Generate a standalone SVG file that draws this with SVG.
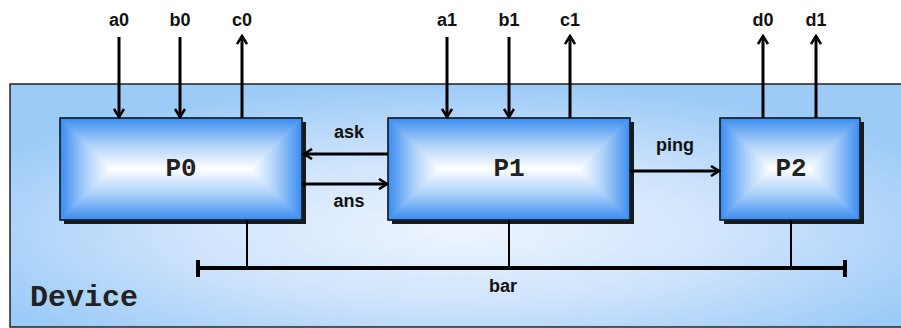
<svg xmlns="http://www.w3.org/2000/svg" width="901" height="328" viewBox="0 0 901 328">
<defs>
<style>
.lbl{font-family:"Liberation Sans",Arial,sans-serif;font-weight:bold;font-size:18px;fill:#111;text-anchor:middle}
.nm{font-family:"Liberation Mono","Courier New",monospace;font-weight:bold;font-size:26px;fill:#222;text-anchor:middle}
.arr{stroke:#000;stroke-width:3;fill:none}
.stub{stroke:#000;stroke-width:2;fill:none}
.shadow{fill:#1a1a1a}
.edge{fill:none;stroke:#111;stroke-width:1.5}
.t{fill:url(#gt);stroke:url(#gt);stroke-width:1}
.b{fill:url(#gb);stroke:url(#gb);stroke-width:1}
.l{fill:url(#gl);stroke:url(#gl);stroke-width:1}
.r{fill:url(#gr);stroke:url(#gr);stroke-width:1}
</style>
<radialGradient id="bg" cx="0.5" cy="0.6" r="0.6">
<stop offset="0" stop-color="#eef5ff"/>
<stop offset="0.5" stop-color="#cfe4fc"/>
<stop offset="1" stop-color="#9ccbf7"/>
</radialGradient>
<linearGradient id="gt" x1="0" y1="0" x2="0" y2="1"><stop offset="0" stop-color="#3a8cf0"/><stop offset="0.5" stop-color="#a8cff9"/><stop offset="1" stop-color="#ffffff"/></linearGradient>
<linearGradient id="gb" x1="0" y1="1" x2="0" y2="0"><stop offset="0" stop-color="#3a8cf0"/><stop offset="0.5" stop-color="#a8cff9"/><stop offset="1" stop-color="#ffffff"/></linearGradient>
<linearGradient id="gl" x1="0" y1="0" x2="1" y2="0"><stop offset="0" stop-color="#3a8cf0"/><stop offset="0.5" stop-color="#a8cff9"/><stop offset="1" stop-color="#ffffff"/></linearGradient>
<linearGradient id="gr" x1="1" y1="0" x2="0" y2="0"><stop offset="0" stop-color="#3a8cf0"/><stop offset="0.5" stop-color="#a8cff9"/><stop offset="1" stop-color="#ffffff"/></linearGradient>
<marker id="ah" viewBox="0 0 12 12" refX="10" refY="6" markerWidth="12" markerHeight="12" markerUnits="userSpaceOnUse" orient="auto">
<path d="M2,1 L10,6 L2,11" fill="none" stroke="#000" stroke-width="2.6"/>
</marker>
</defs>

<g id="device">
<rect x="10" y="84" width="900" height="243" fill="url(#bg)" stroke="#222" stroke-width="1.5"/>
<text x="30" y="306" font-family="'Liberation Mono','Courier New',monospace" font-weight="bold" font-size="30" fill="#222">Device</text>
</g>

<g id="P0">
<rect class="shadow" x="64" y="122" width="242" height="102"/>
<polygon class="t" points="60,118 302,118 251,169 111,169"/>
<polygon class="b" points="60,220 302,220 251,169 111,169"/>
<polygon class="l" points="60,118 111,169 60,220"/>
<polygon class="r" points="302,118 251,169 302,220"/>
<rect class="edge" x="60" y="118" width="242" height="102"/>
<text class="nm" x="181" y="176">P0</text>
</g>

<g id="P1">
<rect class="shadow" x="392" y="122" width="242" height="102"/>
<polygon class="t" points="388,118 630,118 579,169 439,169"/>
<polygon class="b" points="388,220 630,220 579,169 439,169"/>
<polygon class="l" points="388,118 439,169 388,220"/>
<polygon class="r" points="630,118 579,169 630,220"/>
<rect class="edge" x="388" y="118" width="242" height="102"/>
<text class="nm" x="509" y="176">P1</text>
</g>

<g id="P2">
<rect class="shadow" x="724" y="122" width="140" height="102"/>
<polygon class="t" points="720,118 860,118 809,169 771,169"/>
<polygon class="b" points="720,220 860,220 809,169 771,169"/>
<polygon class="l" points="720,118 771,169 720,220"/>
<polygon class="r" points="860,118 809,169 860,220"/>
<rect class="edge" x="720" y="118" width="140" height="102"/>
<text class="nm" x="791" y="176">P2</text>
</g>

<g id="connectors">
<line class="arr" x1="119" y1="37" x2="119" y2="117" marker-end="url(#ah)"/>
<line class="arr" x1="180" y1="37" x2="180" y2="117" marker-end="url(#ah)"/>
<line class="arr" x1="242" y1="118" x2="242" y2="36" marker-end="url(#ah)"/>
<line class="arr" x1="447" y1="37" x2="447" y2="117" marker-end="url(#ah)"/>
<line class="arr" x1="509" y1="37" x2="509" y2="117" marker-end="url(#ah)"/>
<line class="arr" x1="570" y1="118" x2="570" y2="36" marker-end="url(#ah)"/>
<line class="arr" x1="763" y1="118" x2="763" y2="36" marker-end="url(#ah)"/>
<line class="arr" x1="816" y1="118" x2="816" y2="36" marker-end="url(#ah)"/>
<line class="arr" x1="388" y1="154" x2="304" y2="154" marker-end="url(#ah)"/>
<line class="arr" x1="302" y1="184" x2="387" y2="184" marker-end="url(#ah)"/>
<line class="arr" x1="630" y1="171" x2="719" y2="171" marker-end="url(#ah)"/>
<line class="stub" x1="247" y1="220" x2="247" y2="268"/>
<line class="stub" x1="509" y1="220" x2="509" y2="268"/>
<line class="stub" x1="791" y1="220" x2="791" y2="268"/>
<line x1="197" y1="268" x2="845" y2="268" stroke="#000" stroke-width="4"/>
<line x1="198" y1="260" x2="198" y2="277" stroke="#000" stroke-width="4"/>
<line x1="845" y1="260" x2="845" y2="277" stroke="#000" stroke-width="4"/>
</g>

<g id="labels">
<text class="lbl" x="119" y="26">a0</text>
<text class="lbl" x="180" y="26">b0</text>
<text class="lbl" x="242" y="26">c0</text>
<text class="lbl" x="447" y="26">a1</text>
<text class="lbl" x="509" y="26">b1</text>
<text class="lbl" x="570" y="26">c1</text>
<text class="lbl" x="763" y="26">d0</text>
<text class="lbl" x="816" y="26">d1</text>
<text class="lbl" x="349" y="138">ask</text>
<text class="lbl" x="349" y="207">ans</text>
<text class="lbl" x="675" y="151">ping</text>
<text class="lbl" x="503" y="292">bar</text>
</g>
</svg>
